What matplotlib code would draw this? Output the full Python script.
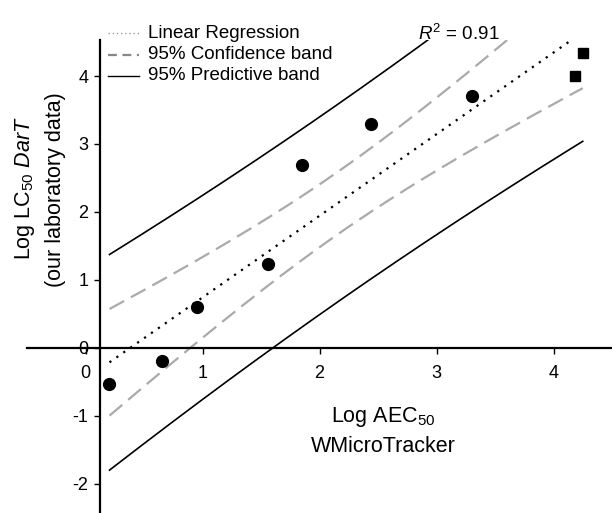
import numpy as np
import matplotlib
matplotlib.use("Agg")
from matplotlib import pyplot as plt
from matplotlib.lines import Line2D

plt.rcParams['font.family'] = ['Liberation Sans', 'DejaVu Sans']
plt.rcParams['mathtext.fontset'] = 'custom'
plt.rcParams['mathtext.rm'] = 'Liberation Sans'
plt.rcParams['mathtext.it'] = 'Liberation Sans:italic'
plt.rcParams['axes.unicode_minus'] = False

# data
circle_x = [0.205, 0.65, 0.95, 1.56, 1.85, 2.44, 3.30]
circle_y = [-0.53, -0.19, 0.60, 1.24, 2.69, 3.29, 3.71]
square_x = [4.18, 4.25]
square_y = [4.00, 4.34]
x_ticks = [0, 1, 2, 3, 4]
y_ticks = [-2, -1, 0, 1, 2, 3, 4]
legend_labels = ["Linear Regression", "95% Confidence band", "95% Predictive band"]
r2_label = "$R^2$ = 0.91"

T_975 = 2.3646  # t quantile, df = n - 2 = 7

# regression over all points
x = np.array(circle_x + square_x)
y = np.array(circle_y + square_y)
n = len(x)
slope, intercept = np.polyfit(x, y, 1)
resid = y - (slope * x + intercept)
s = np.sqrt(np.sum(resid ** 2) / (n - 2))
sxx = np.sum((x - x.mean()) ** 2)

xs = np.linspace(x.min(), x.max(), 200)
fit = slope * xs + intercept
conf = T_975 * s * np.sqrt(1 / n + (xs - x.mean()) ** 2 / sxx)
pred = T_975 * s * np.sqrt(1 + 1 / n + (xs - x.mean()) ** 2 / sxx)

fig = plt.figure(figsize=(6.12, 5.13), dpi=100)
ax = fig.add_axes([27 / 612, 0.0, 585 / 612, 473 / 513])

gray = '#aaaaaa'
dash = (0, (7.5, 3.5))
dots = (0, (1, 2.8))

ax.plot(xs, fit, color='black', lw=1.6, linestyle=dots)
ax.plot(xs, fit + conf, color=gray, lw=1.6, linestyle=dash)
ax.plot(xs, fit - conf, color=gray, lw=1.6, linestyle=dash)
ax.plot(xs, fit + pred, color='black', lw=1.2)
ax.plot(xs, fit - pred, color='black', lw=1.2)

ax.plot(circle_x, circle_y, 'o', color='black', ms=8.5, clip_on=False)
ax.plot(square_x, square_y, 's', color='black', ms=7.5, clip_on=False)

ax.set_xlim(-0.5, 4.5)
ax.set_ylim(-2.43, 4.53)

ax.spines['top'].set_visible(False)
ax.spines['right'].set_visible(False)
ax.spines['left'].set_position(('data', 0.12))
ax.spines['bottom'].set_position(('data', 0))
for sp in ('left', 'bottom'):
    ax.spines[sp].set_linewidth(1.6)

ax.set_xticks(x_ticks)
ax.set_yticks(y_ticks)
ax.tick_params(axis='both', direction='out', length=4, width=1, labelsize=13)
ax.tick_params(axis='x', pad=8)
ax.tick_params(axis='y', pad=4)

# axis titles
fig.text(25 / 612, 1 - 188 / 513, "Log LC$_{50}$ $\\it{DarT}$", rotation=90,
         ha='center', va='center', fontsize=15.5)
fig.text(55 / 612, 1 - 190 / 513, "(our laboratory data)", rotation=90,
         ha='center', va='center', fontsize=15.5)
fig.text(383 / 612, 1 - 417 / 513, "Log AEC$_{50}$", ha='center', va='center', fontsize=15.5)
fig.text(383 / 612, 1 - 447 / 513, "WMicroTracker", ha='center', va='center', fontsize=15.5)

# R squared
fig.text(418 / 612, 1 - 34 / 513, r2_label, ha='left', va='center', fontsize=13.5)

# legend drawn by hand
styles = [dict(color='#999999', lw=1.0, linestyle=(0, (1, 2))),
          dict(color='#888888', lw=1.6, linestyle=(0, (4, 2.5))),
          dict(color='black', lw=1.0)]
rows = [33, 55, 76]
for label, style, row in zip(legend_labels, styles, rows):
    yy = 1 - row / 513
    fig.add_artist(Line2D([108 / 612, 139 / 612], [yy, yy], transform=fig.transFigure, **style))
    fig.text(148 / 612, yy, label, ha='left', va='center', fontsize=13.5)

fig.savefig("out.png", dpi=100)
